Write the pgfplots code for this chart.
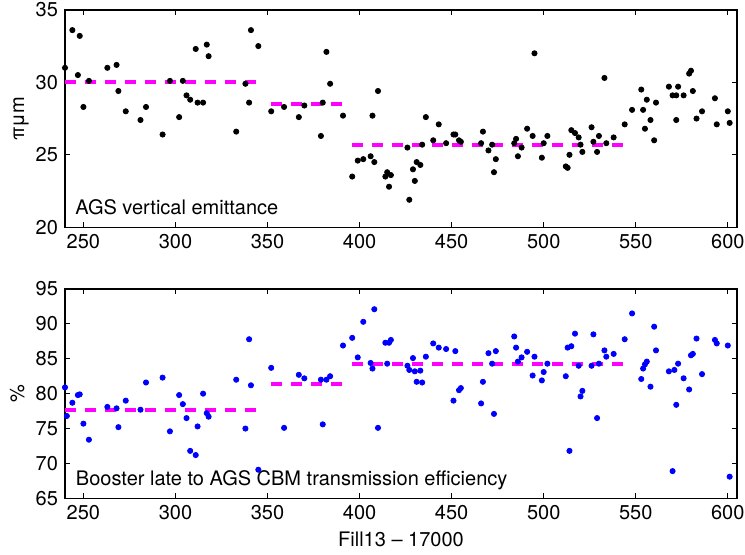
\documentclass[border=0pt]{standalone}
\usepackage{fontspec}
\setmainfont{TeX Gyre Heros}
\usepackage{pgfplots}
\pgfplotsset{compat=1.18}
\definecolor{dmag}{rgb}{1,0,1}
\pgfplotsset{
  myax/.style={
    scale only axis, width=336pt,
    xmin=240, xmax=605,
    xtick={250,300,350,400,450,500,550,600},
    tick align=inside,
    major tick length=2.5pt,
    axis line style={line width=0.8pt},
    every tick/.style={black, line width=0.5pt},
    /pgf/number format/assume math mode=true,
    clip=false,
  },
  avgline/.style={dmag, line width=2pt, dash pattern=on 5.5pt off 4.5pt, no marks},
}
\begin{document}
\begin{tikzpicture}[font=\fontsize{10}{12}\selectfont]
\path[use as bounding box] (0,0) rectangle (372.5pt,-277pt);
\begin{axis}[myax,
  at={(32.5pt,-113.65pt)}, anchor=south west,
  height=108.75pt,
  ymin=20, ymax=35, ytick={20,25,30,35},
  ylabel={πμm},
  ylabel style={at={(axis description cs:-0.061,0.5)}, anchor=base},
]
\addplot[avgline] coordinates {(240,30.05) (344.6,30.05)};
\addplot[avgline] coordinates {(352,28.53) (390.4,28.53)};
\addplot[avgline] coordinates {(395.9,25.68) (544.4,25.68)};
\addplot[only marks, mark=*, mark size=1.3pt, black] coordinates {
(240,31.0)(244,33.6)(247,30.5)(248,33.2)(250,28.3)(253,30.1)(263,31.0)(268,31.2)(269,29.4)(273,28.0)
(281,27.4)(284,28.3)(293,26.4)(297,30.1)(302,27.6)(304,30.1)(306,29.1)(308,28.8)(311,32.3)(312,28.6)
(315,28.6)(317,32.6)(318,31.8)(333,26.6)(338,29.9)(340,28.6)(341,33.6)(345,32.5)(352,28.0)(359,28.3)
(367,27.6)(370,28.4)(379,26.3)(380,28.6)(382,32.1)(384,29.9)(391,27.7)(396,23.5)(399,24.6)(402,24.7)
(406,24.9)(407,27.7)(408,24.5)(410,29.4)(414,23.5)(415,23.8)(416,22.8)(417,23.6)(426,25.5)(427,21.9)
(429,24.0)(430,23.2)(431,24.5)(433,24.3)(434,25.7)(436,27.6)(440,26.0)(443,27.1)(447,25.8)(451,26.4)
(452,26.4)(454,26.0)(455,25.9)(466,25.8)(467,26.6)(470,25.3)(472,25.7)(473,23.8)(474,24.7)(484,25.8)
(485,26.1)(486,24.9)(488,25.5)(491,26.8)(494,26.3)(495,32.0)(499,24.8)(500,25.8)(502,26.3)(512,24.2)
(513,24.1)(514,25.0)(515,26.7)(517,26.5)(519,26.2)(520,25.7)(521,25.2)(526,26.9)(527,25.9)(529,25.2)
(530,26.3)(533,30.3)(534,25.8)(538,26.2)(544,27.1)(548,28.1)(553,29.5)(554,28.1)(555,26.8)(556,28.8)
(558,27.4)(560,26.0)(561,28.6)(568,29.7)(570,29.1)(572,29.1)(572,27.4)(573,29.7)(576,29.1)(579,30.6)
(580,30.8)(581,29.4)(583,27.5)(586,28.0)(593,28.9)(594,27.1)(600,28.0)(601,27.2)
};
\node[anchor=base west, inner sep=0pt] at ([xshift=5pt,yshift=6.35pt]rel axis cs:0,0) {AGS vertical emittance};
\end{axis}
\begin{axis}[myax,
  at={(32.5pt,-249.15pt)}, anchor=south west,
  height=104.65pt,
  ymin=65, ymax=95, ytick={65,70,75,80,85,90,95},
  ylabel={\%},
  ylabel style={at={(axis description cs:-0.061,0.5)}, anchor=base},
  xlabel={Fill13 – 17000},
  xlabel style={at={(axis description cs:0.5,0)}, anchor=base, yshift=-24.2pt},
]
\addplot[avgline] coordinates {(240,77.66) (344.6,77.66)};
\addplot[avgline] coordinates {(352,81.43) (390.4,81.43)};
\addplot[avgline] coordinates {(395.9,84.25) (544.4,84.25)};
\addplot[only marks, mark=*, mark size=1.3pt, blue] coordinates {
(240,80.9)(241,76.8)(244,78.7)(247,79.8)(248,79.9)(250,75.7)(253,73.4)(263,78.1)(268,77.9)(269,75.2)
(273,79.0)(281,77.7)(284,81.6)(293,82.3)(297,74.6)(302,79.8)(304,78.5)(306,76.5)(308,71.8)(311,71.2)
(312,75.3)(315,80.0)(317,77.2)(318,76.7)(333,82.0)(338,75.0)(340,87.8)(341,81.2)(345,69.1)(352,83.7)
(359,75.1)(367,82.7)(370,82.2)(380,75.6)(379,82.0)(382,82.0)(384,82.5)(391,86.9)(396,88.0)(399,85.2)
(402,90.3)(406,84.4)(407,83.6)(408,92.1)(410,75.1)(414,87.3)(415,84.3)(416,87.3)(417,87.7)(426,84.0)
(427,83.4)(429,85.1)(430,83.2)(431,81.7)(433,83.3)(434,81.6)(436,85.3)(440,87.2)(443,86.6)(447,86.4)
(451,79.0)(452,86.1)(454,80.5)(455,80.8)(466,78.6)(467,81.7)(470,85.8)(472,84.3)(473,77.1)(474,86.1)
(484,88.2)(485,86.6)(486,84.6)(488,85.2)(491,86.0)(494,82.6)(495,85.3)(499,81.9)(500,83.1)(502,84.3)
(512,82.5)(513,86.6)(514,71.8)(515,86.8)(517,88.6)(519,84.0)(520,79.6)(521,80.4)(526,84.0)(527,88.5)
(529,76.5)(530,84.3)(533,86.2)(534,85.3)(538,85.7)(544,87.8)(548,91.5)(553,82.1)(554,83.6)(555,84.2)
(556,84.6)(558,81.0)(560,89.6)(561,86.2)(568,83.2)(570,68.9)(571,83.4)(572,78.4)(573,84.3)(576,82.2)
(579,80.6)(580,85.5)(581,85.7)(583,87.9)(586,82.8)(593,87.7)(594,87.2)(600,86.9)(601,68.1)
};
\node[anchor=base west, inner sep=0pt] at ([xshift=5.3pt,yshift=6.65pt]rel axis cs:0,0) {Booster late to AGS CBM transmission efficiency};
\end{axis}
\end{tikzpicture}
\end{document}
